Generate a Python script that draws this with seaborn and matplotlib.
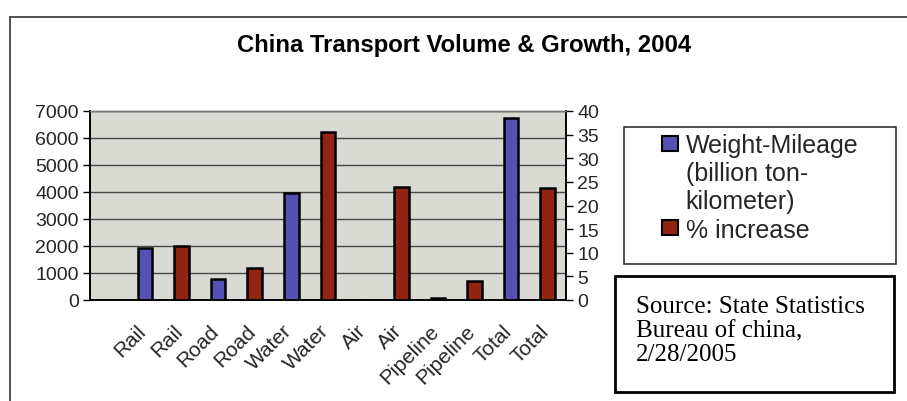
import numpy as np
import pandas as pd
import matplotlib
matplotlib.use("Agg")
import matplotlib.pyplot as plt
from matplotlib.patches import Patch, Rectangle
from matplotlib.lines import Line2D
import seaborn as sns

# data
modes = ["Rail", "Road", "Water", "Air", "Pipeline", "Total"]
weight_mileage = [1930, 780, 3950, 7, 80, 6750]     # billion ton-km, left axis
pct_increase = [11.5, 6.8, 35.6, 23.9, 4.0, 23.7]   # %, right axis
tick_labels = [m for m in modes for _ in range(2)]

BLUE = "#5550b4"
RED = "#922414"
PLOT_BG = "#dadad4"

sns.set_theme(style="white")
plt.rcParams["font.family"] = ["Liberation Sans", "DejaVu Sans"]

W, H = 907, 402
fx = lambda px: px / W
fy = lambda py: 1 - py / H

fig = plt.figure(figsize=(W / 100, H / 100), dpi=100)
fig.patch.set_facecolor("white")

# outer chart border (top and left only visible in the scan)
fig.add_artist(Line2D([fx(10), 1], [fy(18), fy(18)], color="#333333", lw=1.2))
fig.add_artist(Line2D([fx(10), fx(10)], [fy(18), 0], color="#333333", lw=1.2))

fig.text(fx(464), fy(52), "China Transport Volume & Growth, 2004",
         ha="center", va="baseline", fontsize=17.2, fontweight="bold", color="black")

ax = fig.add_axes([fx(90), fy(301), fx(566) - fx(90), (301 - 112) / H])
ax2 = ax.twinx()

slots = [f"s{i}" for i in range(len(tick_labels))]
blue_df = pd.DataFrame({"slot": slots[0::2], "value": weight_mileage})
red_df = pd.DataFrame({"slot": slots[1::2], "value": pct_increase})

sns.barplot(data=blue_df, x="slot", y="value", order=slots, color=BLUE, saturation=1,
            width=0.4, edgecolor="black", linewidth=1.8, errorbar=None, ax=ax)
sns.barplot(data=red_df, x="slot", y="value", order=slots, color=RED, saturation=1,
            width=0.4, edgecolor="black", linewidth=1.8, errorbar=None, ax=ax2)

ax.set_facecolor(PLOT_BG)
ax.set_xlim(-1.5, len(slots) - 0.5)
ax.set_ylim(0, 7000)
ax2.set_ylim(0, 40)
ax.set_yticks(np.arange(0, 7001, 1000))
ax2.set_yticks(np.arange(0, 41, 5))
ax.yaxis.grid(True, color="#4a4a4a", lw=1.0)
ax.set_axisbelow(True)

# category boundaries get the tick marks, labels sit (slightly left of) the bar centres
ax.set_xticks(np.arange(-1.5, len(slots), 1))
ax.set_xticklabels([])
ax.set_xticks(np.arange(len(slots)) - 0.24, minor=True)
ax.set_xticklabels(tick_labels, minor=True, rotation=45, ha="right",
                   rotation_mode="anchor", fontsize=15)
ax.tick_params(axis="x", which="major", direction="out", length=5, width=1, color="black")
ax.tick_params(axis="x", which="minor", length=0, pad=15)
ax.tick_params(axis="y", direction="out", length=5, width=1, color="black",
               labelsize=14, pad=3, left=True)
ax2.tick_params(axis="y", direction="out", length=5, width=1, color="black",
                labelsize=14, pad=3, right=True)

for a in (ax, ax2):
    a.set_xlabel("")
    a.set_ylabel("")
    for side in ("left", "bottom", "right"):
        a.spines[side].set_color("black")
        a.spines[side].set_linewidth(1.2)
    a.spines["top"].set_color("#777777")
    a.spines["top"].set_linewidth(1.0)

# legend
fig.add_artist(Rectangle((fx(624), fy(265)), fx(896) - fx(624), (265 - 128) / H,
                         transform=fig.transFigure, fill=False, edgecolor="#333333", lw=1.2))
blank = Patch(facecolor="none", edgecolor="none")
handles = [Patch(facecolor=BLUE, edgecolor="black", lw=1.5), blank, blank,
           Patch(facecolor=RED, edgecolor="black", lw=1.5)]
labels = ["Weight-Mileage", "(billion ton-", "kilometer)", "% increase"]
fig.legend(handles, labels, loc="upper left", bbox_to_anchor=(fx(662), fy(134)),
           frameon=False, fontsize=18, handlelength=0.65, handleheight=0.55,
           handletextpad=0.3, labelspacing=0.17, borderpad=0, borderaxespad=0)

# source box
fig.add_artist(Rectangle((fx(615), fy(393)), fx(894) - fx(615), (393 - 277) / H,
                         transform=fig.transFigure, fill=False, edgecolor="black", lw=2))
fig.text(fx(636), fy(296), "Source: State Statistics\nBureau of china,\n2/28/2005",
         ha="left", va="top", fontsize=18, family=["Liberation Serif", "DejaVu Serif"],
         linespacing=1.12, color="black")

fig.savefig("out.png", dpi=100)
